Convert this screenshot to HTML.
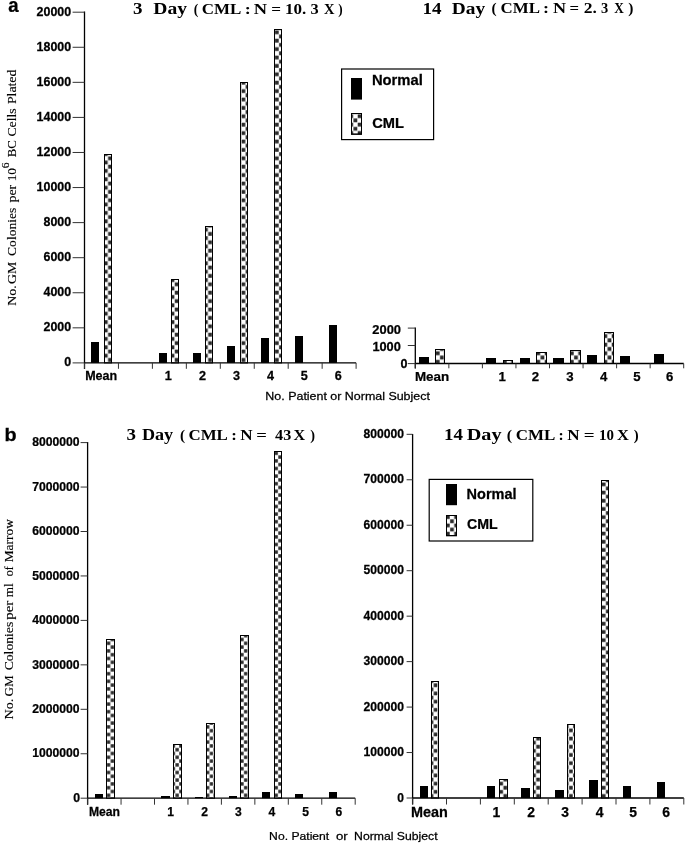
<!DOCTYPE html>
<html><head><meta charset="utf-8"><style>
html,body{margin:0;padding:0;background:#fff;}
svg{display:block;filter:grayscale(1) blur(0.35px);}
text[font-family="Liberation Sans"]{stroke:#000;stroke-width:0.25px;}
text[font-weight="normal"][font-family="Liberation Serif"]{stroke:#000;stroke-width:0.12px;}
</style></head><body>
<svg width="685" height="843" viewBox="0 0 685 843">
<defs><pattern id="pAL" patternUnits="userSpaceOnUse" x="103.730" y="160.400" width="8.340" height="8.400"><rect x="0.20" y="0.20" width="3.770" height="3.800" fill="#2a2a2a"/><rect x="4.370" y="4.400" width="3.770" height="3.800" fill="#2a2a2a"/></pattern><pattern id="pAR" patternUnits="userSpaceOnUse" x="607.400" y="338.200" width="8.380" height="8.600"><rect x="0.20" y="0.20" width="3.790" height="3.900" fill="#2a2a2a"/><rect x="4.390" y="4.500" width="3.790" height="3.900" fill="#2a2a2a"/></pattern><pattern id="pBL" patternUnits="userSpaceOnUse" x="274.300" y="451.400" width="7.620" height="7.600"><rect x="0.20" y="0.20" width="3.410" height="3.400" fill="#2a2a2a"/><rect x="4.010" y="4.000" width="3.410" height="3.400" fill="#2a2a2a"/></pattern><pattern id="pBR" patternUnits="userSpaceOnUse" x="433.500" y="683.200" width="8.200" height="8.200"><rect x="0.20" y="0.20" width="3.700" height="3.700" fill="#2a2a2a"/><rect x="4.300" y="4.300" width="3.700" height="3.700" fill="#2a2a2a"/></pattern><pattern id="pLA" patternUnits="userSpaceOnUse" x="353.300" y="118.300" width="8.400" height="8.400"><rect x="0.20" y="0.20" width="3.800" height="3.800" fill="#2a2a2a"/><rect x="4.400" y="4.400" width="3.800" height="3.800" fill="#2a2a2a"/></pattern><pattern id="pLB" patternUnits="userSpaceOnUse" x="449.900" y="519.200" width="8.300" height="8.300"><rect x="0.20" y="0.20" width="3.750" height="3.750" fill="#2a2a2a"/><rect x="4.350" y="4.350" width="3.750" height="3.750" fill="#2a2a2a"/></pattern></defs>
<rect width="685" height="843" fill="#fff"/>
<text transform="translate(8.24,11.80) scale(0.942,1)" font-family="Liberation Sans" font-weight="bold" font-size="19.73" fill="#000" >a</text>
<text transform="translate(4.51,441.02) scale(1.103,1)" font-family="Liberation Sans" font-weight="bold" font-size="17.96" fill="#000" >b</text>
<line x1="84.50" y1="11.60" x2="84.50" y2="368.90" stroke="#000" stroke-width="1.3"/>
<line x1="72.60" y1="362.90" x2="84.50" y2="362.90" stroke="#333" stroke-width="1.0"/>
<text transform="translate(64.29,366.20) scale(1.020,1)" font-family="Liberation Sans" font-weight="bold" font-size="12.20" fill="#000">0</text>
<line x1="72.60" y1="327.83" x2="84.50" y2="327.83" stroke="#333" stroke-width="1.0"/>
<text transform="translate(43.54,331.13) scale(1.020,1)" font-family="Liberation Sans" font-weight="bold" font-size="12.20" fill="#000">2000</text>
<line x1="72.60" y1="292.76" x2="84.50" y2="292.76" stroke="#333" stroke-width="1.0"/>
<text transform="translate(43.54,296.06) scale(1.020,1)" font-family="Liberation Sans" font-weight="bold" font-size="12.20" fill="#000">4000</text>
<line x1="72.60" y1="257.69" x2="84.50" y2="257.69" stroke="#333" stroke-width="1.0"/>
<text transform="translate(43.54,260.99) scale(1.020,1)" font-family="Liberation Sans" font-weight="bold" font-size="12.20" fill="#000">6000</text>
<line x1="72.60" y1="222.62" x2="84.50" y2="222.62" stroke="#333" stroke-width="1.0"/>
<text transform="translate(43.54,225.92) scale(1.020,1)" font-family="Liberation Sans" font-weight="bold" font-size="12.20" fill="#000">8000</text>
<line x1="72.60" y1="187.55" x2="84.50" y2="187.55" stroke="#333" stroke-width="1.0"/>
<text transform="translate(36.60,190.85) scale(1.020,1)" font-family="Liberation Sans" font-weight="bold" font-size="12.20" fill="#000">10000</text>
<line x1="72.60" y1="152.48" x2="84.50" y2="152.48" stroke="#333" stroke-width="1.0"/>
<text transform="translate(36.60,155.78) scale(1.020,1)" font-family="Liberation Sans" font-weight="bold" font-size="12.20" fill="#000">12000</text>
<line x1="72.60" y1="117.41" x2="84.50" y2="117.41" stroke="#333" stroke-width="1.0"/>
<text transform="translate(36.60,120.71) scale(1.020,1)" font-family="Liberation Sans" font-weight="bold" font-size="12.20" fill="#000">14000</text>
<line x1="72.60" y1="82.34" x2="84.50" y2="82.34" stroke="#333" stroke-width="1.0"/>
<text transform="translate(36.60,85.64) scale(1.020,1)" font-family="Liberation Sans" font-weight="bold" font-size="12.20" fill="#000">16000</text>
<line x1="72.60" y1="47.27" x2="84.50" y2="47.27" stroke="#333" stroke-width="1.0"/>
<text transform="translate(36.60,50.57) scale(1.020,1)" font-family="Liberation Sans" font-weight="bold" font-size="12.20" fill="#000">18000</text>
<line x1="72.60" y1="12.20" x2="84.50" y2="12.20" stroke="#333" stroke-width="1.0"/>
<text transform="translate(36.60,15.50) scale(1.020,1)" font-family="Liberation Sans" font-weight="bold" font-size="12.20" fill="#000">20000</text>
<line x1="84.50" y1="362.90" x2="356.10" y2="362.90" stroke="#000" stroke-width="1.3"/>
<line x1="84.50" y1="362.90" x2="84.50" y2="368.80" stroke="#333" stroke-width="1.0"/>
<line x1="118.45" y1="362.90" x2="118.45" y2="368.80" stroke="#333" stroke-width="1.0"/>
<line x1="152.40" y1="362.90" x2="152.40" y2="368.80" stroke="#333" stroke-width="1.0"/>
<line x1="186.35" y1="362.90" x2="186.35" y2="368.80" stroke="#333" stroke-width="1.0"/>
<line x1="220.30" y1="362.90" x2="220.30" y2="368.80" stroke="#333" stroke-width="1.0"/>
<line x1="254.25" y1="362.90" x2="254.25" y2="368.80" stroke="#333" stroke-width="1.0"/>
<line x1="288.20" y1="362.90" x2="288.20" y2="368.80" stroke="#333" stroke-width="1.0"/>
<line x1="322.15" y1="362.90" x2="322.15" y2="368.80" stroke="#333" stroke-width="1.0"/>
<line x1="356.10" y1="362.90" x2="356.10" y2="368.80" stroke="#333" stroke-width="1.0"/>
<text transform="translate(85.15,380.10) scale(1.010,1)" font-family="Liberation Sans" font-weight="bold" font-size="12.40" fill="#000" >Mean</text>
<text transform="translate(164.87,380.20) scale(1.020,1)" font-family="Liberation Sans" font-weight="bold" font-size="12.40" fill="#000">1</text>
<text transform="translate(199.07,380.20) scale(1.020,1)" font-family="Liberation Sans" font-weight="bold" font-size="12.40" fill="#000">2</text>
<text transform="translate(233.07,380.20) scale(1.020,1)" font-family="Liberation Sans" font-weight="bold" font-size="12.40" fill="#000">3</text>
<text transform="translate(266.88,380.20) scale(1.020,1)" font-family="Liberation Sans" font-weight="bold" font-size="12.40" fill="#000">4</text>
<text transform="translate(300.87,380.20) scale(1.020,1)" font-family="Liberation Sans" font-weight="bold" font-size="12.40" fill="#000">5</text>
<text transform="translate(334.82,380.20) scale(1.020,1)" font-family="Liberation Sans" font-weight="bold" font-size="12.40" fill="#000">6</text>
<rect x="91.00" y="342.00" width="8.00" height="20.90" fill="#000"/>
<rect x="104.50" y="154.50" width="7.00" height="208.40" fill="url(#pAL)" stroke="#000" stroke-width="1"/>
<rect x="159.00" y="353.00" width="8.00" height="9.90" fill="#000"/>
<rect x="171.50" y="279.50" width="7.00" height="83.40" fill="url(#pAL)" stroke="#000" stroke-width="1"/>
<rect x="193.00" y="353.00" width="8.00" height="9.90" fill="#000"/>
<rect x="205.50" y="226.50" width="7.00" height="136.40" fill="url(#pAL)" stroke="#000" stroke-width="1"/>
<rect x="227.00" y="346.00" width="8.00" height="16.90" fill="#000"/>
<rect x="240.50" y="82.50" width="7.00" height="280.40" fill="url(#pAL)" stroke="#000" stroke-width="1"/>
<rect x="261.00" y="338.00" width="8.00" height="24.90" fill="#000"/>
<rect x="274.50" y="29.50" width="7.00" height="333.40" fill="url(#pAL)" stroke="#000" stroke-width="1"/>
<rect x="295.00" y="336.00" width="8.00" height="26.90" fill="#000"/>
<rect x="329.00" y="325.00" width="8.00" height="37.90" fill="#000"/>
<line x1="415.30" y1="327.50" x2="415.30" y2="368.50" stroke="#000" stroke-width="1.3"/>
<line x1="407.80" y1="363.60" x2="415.30" y2="363.60" stroke="#333" stroke-width="1.0"/>
<line x1="407.80" y1="345.50" x2="415.30" y2="345.50" stroke="#333" stroke-width="1.0"/>
<line x1="407.80" y1="328.10" x2="415.30" y2="328.10" stroke="#333" stroke-width="1.0"/>
<text transform="translate(372.35,333.70) scale(1.057,1)" font-family="Liberation Sans" font-weight="bold" font-size="12.20" fill="#000" >2000</text>
<text transform="translate(372.40,350.80) scale(1.048,1)" font-family="Liberation Sans" font-weight="bold" font-size="12.20" fill="#000" >1000</text>
<text transform="translate(400.53,368.40) scale(1.030,1)" font-family="Liberation Sans" font-weight="bold" font-size="12.20" fill="#000">0</text>
<line x1="415.30" y1="363.50" x2="683.70" y2="363.50" stroke="#000" stroke-width="1.3"/>
<line x1="415.30" y1="363.50" x2="415.30" y2="368.30" stroke="#333" stroke-width="1.0"/>
<line x1="448.85" y1="363.50" x2="448.85" y2="368.30" stroke="#333" stroke-width="1.0"/>
<line x1="482.40" y1="363.50" x2="482.40" y2="368.30" stroke="#333" stroke-width="1.0"/>
<line x1="515.95" y1="363.50" x2="515.95" y2="368.30" stroke="#333" stroke-width="1.0"/>
<line x1="549.50" y1="363.50" x2="549.50" y2="368.30" stroke="#333" stroke-width="1.0"/>
<line x1="583.05" y1="363.50" x2="583.05" y2="368.30" stroke="#333" stroke-width="1.0"/>
<line x1="616.60" y1="363.50" x2="616.60" y2="368.30" stroke="#333" stroke-width="1.0"/>
<line x1="650.15" y1="363.50" x2="650.15" y2="368.30" stroke="#333" stroke-width="1.0"/>
<line x1="683.70" y1="363.50" x2="683.70" y2="368.30" stroke="#333" stroke-width="1.0"/>
<text transform="translate(414.90,381.30) scale(0.992,1)" font-family="Liberation Sans" font-weight="bold" font-size="13.50" fill="#000" >Mean</text>
<text transform="translate(498.41,381.30) scale(1.000,1)" font-family="Liberation Sans" font-weight="bold" font-size="13.20" fill="#000">1</text>
<text transform="translate(531.87,381.30) scale(1.000,1)" font-family="Liberation Sans" font-weight="bold" font-size="13.20" fill="#000">2</text>
<text transform="translate(566.32,381.30) scale(1.000,1)" font-family="Liberation Sans" font-weight="bold" font-size="13.20" fill="#000">3</text>
<text transform="translate(599.97,381.30) scale(1.000,1)" font-family="Liberation Sans" font-weight="bold" font-size="13.20" fill="#000">4</text>
<text transform="translate(633.32,381.30) scale(1.000,1)" font-family="Liberation Sans" font-weight="bold" font-size="13.20" fill="#000">5</text>
<text transform="translate(666.02,381.30) scale(1.000,1)" font-family="Liberation Sans" font-weight="bold" font-size="13.20" fill="#000">6</text>
<rect x="419.00" y="357.00" width="10.00" height="6.50" fill="#000"/>
<rect x="435.50" y="349.50" width="9.00" height="14.00" fill="url(#pAR)" stroke="#000" stroke-width="1"/>
<rect x="486.00" y="358.00" width="10.00" height="5.50" fill="#000"/>
<rect x="503.50" y="360.50" width="9.00" height="3.00" fill="url(#pAR)" stroke="#000" stroke-width="1"/>
<rect x="520.00" y="358.00" width="10.00" height="5.50" fill="#000"/>
<rect x="536.50" y="352.50" width="10.00" height="11.00" fill="url(#pAR)" stroke="#000" stroke-width="1"/>
<rect x="553.00" y="358.00" width="11.00" height="5.50" fill="#000"/>
<rect x="570.50" y="350.50" width="10.00" height="13.00" fill="url(#pAR)" stroke="#000" stroke-width="1"/>
<rect x="587.00" y="355.00" width="10.00" height="8.50" fill="#000"/>
<rect x="604.50" y="332.50" width="9.00" height="31.00" fill="url(#pAR)" stroke="#000" stroke-width="1"/>
<rect x="620.00" y="356.00" width="10.00" height="7.50" fill="#000"/>
<rect x="654.00" y="354.00" width="10.00" height="9.50" fill="#000"/>
<rect x="341.6" y="69.0" width="92.0" height="70.6" fill="none" stroke="#000" stroke-width="1.2"/>
<rect x="351.00" y="78.00" width="11.00" height="21.60" fill="#000"/>
<rect x="351.50" y="113.50" width="10.00" height="20.80" fill="url(#pLA)" stroke="#000" stroke-width="1"/>
<rect x="351" y="133.5" width="11" height="1.0" fill="#000"/>
<text transform="translate(371.90,84.80) scale(1.034,1)" font-family="Liberation Sans" font-weight="bold" font-size="14.30" fill="#000" >Normal</text>
<text transform="translate(372.21,127.90) scale(1.025,1)" font-family="Liberation Sans" font-weight="bold" font-size="14.30" fill="#000" >CML</text>
<text transform="translate(265.37,399.60) scale(1.074,1)" font-family="Liberation Sans" font-weight="normal" font-size="11.60" fill="#000" >No. Patient or Normal Subject</text>
<text transform="translate(133.09,13.70) scale(1.128,1)" font-family="Liberation Serif" font-weight="bold" font-size="16.80" fill="#000" >3</text>
<text transform="translate(153.26,13.70) scale(1.166,1)" font-family="Liberation Serif" font-weight="bold" font-size="16.80" fill="#000" >Day</text>
<text transform="translate(193.68,13.80) scale(1.009,1)" font-family="Liberation Serif" font-weight="bold" font-size="13.60" fill="#000" >(</text>
<text transform="translate(201.65,13.80) scale(1.247,1)" font-family="Liberation Serif" font-weight="bold" font-size="13.60" fill="#000" >CML</text>
<text transform="translate(244.80,13.80) scale(1.333,1)" font-family="Liberation Serif" font-weight="bold" font-size="13.60" fill="#000" >:</text>
<text transform="translate(253.83,13.80) scale(1.353,1)" font-family="Liberation Serif" font-weight="bold" font-size="13.60" fill="#000" >N</text>
<text transform="translate(271.34,13.80) scale(1.265,1)" font-family="Liberation Serif" font-weight="bold" font-size="13.60" fill="#000" >=</text>
<text transform="translate(284.93,13.80) scale(1.255,1)" font-family="Liberation Serif" font-weight="bold" font-size="13.60" fill="#000" >10.</text>
<text transform="translate(310.39,13.80) scale(1.204,1)" font-family="Liberation Serif" font-weight="bold" font-size="13.60" fill="#000" >3</text>
<text transform="translate(323.94,13.80) scale(1.072,1)" font-family="Liberation Serif" font-weight="bold" font-size="13.60" fill="#000" >X</text>
<text transform="translate(338.37,13.80) scale(0.971,1)" font-family="Liberation Serif" font-weight="bold" font-size="13.60" fill="#000" >)</text>
<text transform="translate(422.58,13.50) scale(1.134,1)" font-family="Liberation Serif" font-weight="bold" font-size="16.80" fill="#000" >14</text>
<text transform="translate(451.76,13.50) scale(1.155,1)" font-family="Liberation Serif" font-weight="bold" font-size="16.80" fill="#000" >Day</text>
<text transform="translate(491.51,13.30) scale(1.125,1)" font-family="Liberation Serif" font-weight="bold" font-size="13.60" fill="#000" >(</text>
<text transform="translate(500.55,13.30) scale(1.244,1)" font-family="Liberation Serif" font-weight="bold" font-size="13.60" fill="#000" >CML</text>
<text transform="translate(543.10,13.30) scale(1.333,1)" font-family="Liberation Serif" font-weight="bold" font-size="13.60" fill="#000" >:</text>
<text transform="translate(552.94,13.30) scale(1.332,1)" font-family="Liberation Serif" font-weight="bold" font-size="13.60" fill="#000" >N</text>
<text transform="translate(569.56,13.30) scale(1.233,1)" font-family="Liberation Serif" font-weight="bold" font-size="13.60" fill="#000" >=</text>
<text transform="translate(583.66,13.30) scale(1.287,1)" font-family="Liberation Serif" font-weight="bold" font-size="13.60" fill="#000" >2.</text>
<text transform="translate(601.06,13.30) scale(1.066,1)" font-family="Liberation Serif" font-weight="bold" font-size="13.60" fill="#000" >3</text>
<text transform="translate(614.17,13.30) scale(0.977,1)" font-family="Liberation Serif" font-weight="bold" font-size="13.60" fill="#000" >X</text>
<text transform="translate(628.30,13.30) scale(1.142,1)" font-family="Liberation Serif" font-weight="bold" font-size="13.60" fill="#000" >)</text>
<line x1="87.60" y1="442.00" x2="87.60" y2="804.70" stroke="#000" stroke-width="1.3"/>
<line x1="80.60" y1="798.20" x2="87.60" y2="798.20" stroke="#333" stroke-width="1.0"/>
<text transform="translate(73.27,802.00) scale(1.000,1)" font-family="Liberation Sans" font-weight="bold" font-size="12.30" fill="#000">0</text>
<line x1="80.60" y1="753.75" x2="87.60" y2="753.75" stroke="#333" stroke-width="1.0"/>
<text transform="translate(32.29,757.45) scale(0.990,1)" font-family="Liberation Sans" font-weight="bold" font-size="12.30" fill="#000">1000000</text>
<line x1="80.60" y1="709.30" x2="87.60" y2="709.30" stroke="#333" stroke-width="1.0"/>
<text transform="translate(32.29,713.00) scale(0.990,1)" font-family="Liberation Sans" font-weight="bold" font-size="12.30" fill="#000">2000000</text>
<line x1="80.60" y1="664.85" x2="87.60" y2="664.85" stroke="#333" stroke-width="1.0"/>
<text transform="translate(32.29,668.55) scale(0.990,1)" font-family="Liberation Sans" font-weight="bold" font-size="12.30" fill="#000">3000000</text>
<line x1="80.60" y1="620.40" x2="87.60" y2="620.40" stroke="#333" stroke-width="1.0"/>
<text transform="translate(32.29,624.10) scale(0.990,1)" font-family="Liberation Sans" font-weight="bold" font-size="12.30" fill="#000">4000000</text>
<line x1="80.60" y1="575.95" x2="87.60" y2="575.95" stroke="#333" stroke-width="1.0"/>
<text transform="translate(32.29,579.65) scale(0.990,1)" font-family="Liberation Sans" font-weight="bold" font-size="12.30" fill="#000">5000000</text>
<line x1="80.60" y1="531.50" x2="87.60" y2="531.50" stroke="#333" stroke-width="1.0"/>
<text transform="translate(32.29,535.20) scale(0.990,1)" font-family="Liberation Sans" font-weight="bold" font-size="12.30" fill="#000">6000000</text>
<line x1="80.60" y1="487.05" x2="87.60" y2="487.05" stroke="#333" stroke-width="1.0"/>
<text transform="translate(32.29,490.75) scale(0.990,1)" font-family="Liberation Sans" font-weight="bold" font-size="12.30" fill="#000">7000000</text>
<line x1="80.60" y1="442.60" x2="87.60" y2="442.60" stroke="#333" stroke-width="1.0"/>
<text transform="translate(32.29,446.30) scale(0.990,1)" font-family="Liberation Sans" font-weight="bold" font-size="12.30" fill="#000">8000000</text>
<line x1="87.60" y1="798.20" x2="355.20" y2="798.20" stroke="#000" stroke-width="1.3"/>
<line x1="87.60" y1="798.20" x2="87.60" y2="804.70" stroke="#333" stroke-width="1.0"/>
<line x1="121.05" y1="798.20" x2="121.05" y2="804.70" stroke="#333" stroke-width="1.0"/>
<line x1="154.50" y1="798.20" x2="154.50" y2="804.70" stroke="#333" stroke-width="1.0"/>
<line x1="187.95" y1="798.20" x2="187.95" y2="804.70" stroke="#333" stroke-width="1.0"/>
<line x1="221.40" y1="798.20" x2="221.40" y2="804.70" stroke="#333" stroke-width="1.0"/>
<line x1="254.85" y1="798.20" x2="254.85" y2="804.70" stroke="#333" stroke-width="1.0"/>
<line x1="288.30" y1="798.20" x2="288.30" y2="804.70" stroke="#333" stroke-width="1.0"/>
<line x1="321.75" y1="798.20" x2="321.75" y2="804.70" stroke="#333" stroke-width="1.0"/>
<line x1="355.20" y1="798.20" x2="355.20" y2="804.70" stroke="#333" stroke-width="1.0"/>
<text transform="translate(88.88,815.60) scale(1.008,1)" font-family="Liberation Sans" font-weight="bold" font-size="12.10" fill="#000" >Mean</text>
<text transform="translate(167.23,815.80) scale(1.000,1)" font-family="Liberation Sans" font-weight="bold" font-size="12.10" fill="#000">1</text>
<text transform="translate(201.37,815.80) scale(1.000,1)" font-family="Liberation Sans" font-weight="bold" font-size="12.10" fill="#000">2</text>
<text transform="translate(235.12,815.80) scale(1.000,1)" font-family="Liberation Sans" font-weight="bold" font-size="12.10" fill="#000">3</text>
<text transform="translate(268.58,815.80) scale(1.000,1)" font-family="Liberation Sans" font-weight="bold" font-size="12.10" fill="#000">4</text>
<text transform="translate(302.13,815.80) scale(1.000,1)" font-family="Liberation Sans" font-weight="bold" font-size="12.10" fill="#000">5</text>
<text transform="translate(335.43,815.80) scale(1.000,1)" font-family="Liberation Sans" font-weight="bold" font-size="12.10" fill="#000">6</text>
<rect x="95.00" y="794.00" width="8.00" height="4.20" fill="#000"/>
<rect x="106.50" y="639.50" width="8.00" height="158.70" fill="url(#pBL)" stroke="#000" stroke-width="1"/>
<rect x="161.00" y="796.00" width="9.00" height="2.20" fill="#000"/>
<rect x="173.50" y="744.50" width="8.00" height="53.70" fill="url(#pBL)" stroke="#000" stroke-width="1"/>
<rect x="195.00" y="797.00" width="8.00" height="1.20" fill="#000"/>
<rect x="206.50" y="723.50" width="8.00" height="74.70" fill="url(#pBL)" stroke="#000" stroke-width="1"/>
<rect x="229.00" y="796.00" width="8.00" height="2.20" fill="#000"/>
<rect x="240.50" y="635.50" width="8.00" height="162.70" fill="url(#pBL)" stroke="#000" stroke-width="1"/>
<rect x="262.00" y="792.00" width="8.00" height="6.20" fill="#000"/>
<rect x="274.50" y="451.50" width="7.00" height="346.70" fill="url(#pBL)" stroke="#000" stroke-width="1"/>
<rect x="295.00" y="794.00" width="8.00" height="4.20" fill="#000"/>
<rect x="329.00" y="792.00" width="8.00" height="6.20" fill="#000"/>
<line x1="412.60" y1="433.90" x2="412.60" y2="804.50" stroke="#000" stroke-width="1.3"/>
<line x1="406.60" y1="798.00" x2="412.60" y2="798.00" stroke="#333" stroke-width="1.0"/>
<text transform="translate(397.32,802.00) scale(1.000,1)" font-family="Liberation Sans" font-weight="bold" font-size="12.00" fill="#000">0</text>
<line x1="406.60" y1="752.54" x2="412.60" y2="752.54" stroke="#333" stroke-width="1.0"/>
<text transform="translate(363.56,756.24) scale(1.010,1)" font-family="Liberation Sans" font-weight="bold" font-size="12.00" fill="#000">100000</text>
<line x1="406.60" y1="707.08" x2="412.60" y2="707.08" stroke="#333" stroke-width="1.0"/>
<text transform="translate(363.56,710.78) scale(1.010,1)" font-family="Liberation Sans" font-weight="bold" font-size="12.00" fill="#000">200000</text>
<line x1="406.60" y1="661.62" x2="412.60" y2="661.62" stroke="#333" stroke-width="1.0"/>
<text transform="translate(363.56,665.32) scale(1.010,1)" font-family="Liberation Sans" font-weight="bold" font-size="12.00" fill="#000">300000</text>
<line x1="406.60" y1="616.16" x2="412.60" y2="616.16" stroke="#333" stroke-width="1.0"/>
<text transform="translate(363.56,619.86) scale(1.010,1)" font-family="Liberation Sans" font-weight="bold" font-size="12.00" fill="#000">400000</text>
<line x1="406.60" y1="570.70" x2="412.60" y2="570.70" stroke="#333" stroke-width="1.0"/>
<text transform="translate(363.56,574.40) scale(1.010,1)" font-family="Liberation Sans" font-weight="bold" font-size="12.00" fill="#000">500000</text>
<line x1="406.60" y1="525.24" x2="412.60" y2="525.24" stroke="#333" stroke-width="1.0"/>
<text transform="translate(363.56,528.94) scale(1.010,1)" font-family="Liberation Sans" font-weight="bold" font-size="12.00" fill="#000">600000</text>
<line x1="406.60" y1="479.78" x2="412.60" y2="479.78" stroke="#333" stroke-width="1.0"/>
<text transform="translate(363.56,483.48) scale(1.010,1)" font-family="Liberation Sans" font-weight="bold" font-size="12.00" fill="#000">700000</text>
<line x1="406.60" y1="434.32" x2="412.60" y2="434.32" stroke="#333" stroke-width="1.0"/>
<text transform="translate(363.56,438.02) scale(1.010,1)" font-family="Liberation Sans" font-weight="bold" font-size="12.00" fill="#000">800000</text>
<line x1="412.60" y1="798.00" x2="683.80" y2="798.00" stroke="#000" stroke-width="1.3"/>
<line x1="412.60" y1="798.00" x2="412.60" y2="804.50" stroke="#333" stroke-width="1.0"/>
<line x1="446.50" y1="798.00" x2="446.50" y2="804.50" stroke="#333" stroke-width="1.0"/>
<line x1="480.40" y1="798.00" x2="480.40" y2="804.50" stroke="#333" stroke-width="1.0"/>
<line x1="514.30" y1="798.00" x2="514.30" y2="804.50" stroke="#333" stroke-width="1.0"/>
<line x1="548.20" y1="798.00" x2="548.20" y2="804.50" stroke="#333" stroke-width="1.0"/>
<line x1="582.10" y1="798.00" x2="582.10" y2="804.50" stroke="#333" stroke-width="1.0"/>
<line x1="616.00" y1="798.00" x2="616.00" y2="804.50" stroke="#333" stroke-width="1.0"/>
<line x1="649.90" y1="798.00" x2="649.90" y2="804.50" stroke="#333" stroke-width="1.0"/>
<line x1="683.80" y1="798.00" x2="683.80" y2="804.50" stroke="#333" stroke-width="1.0"/>
<text transform="translate(410.92,817.40) scale(0.997,1)" font-family="Liberation Sans" font-weight="bold" font-size="14.50" fill="#000" >Mean</text>
<text transform="translate(492.40,817.20) scale(1.000,1)" font-family="Liberation Sans" font-weight="bold" font-size="13.90" fill="#000">1</text>
<text transform="translate(527.18,817.20) scale(1.000,1)" font-family="Liberation Sans" font-weight="bold" font-size="13.90" fill="#000">2</text>
<text transform="translate(561.33,817.20) scale(1.000,1)" font-family="Liberation Sans" font-weight="bold" font-size="13.90" fill="#000">3</text>
<text transform="translate(595.77,817.20) scale(1.000,1)" font-family="Liberation Sans" font-weight="bold" font-size="13.90" fill="#000">4</text>
<text transform="translate(629.13,817.20) scale(1.000,1)" font-family="Liberation Sans" font-weight="bold" font-size="13.90" fill="#000">5</text>
<text transform="translate(662.33,817.20) scale(1.000,1)" font-family="Liberation Sans" font-weight="bold" font-size="13.90" fill="#000">6</text>
<rect x="420.00" y="786.00" width="8.00" height="12.00" fill="#000"/>
<rect x="431.50" y="681.50" width="7.00" height="116.50" fill="url(#pBR)" stroke="#000" stroke-width="1"/>
<rect x="487.00" y="786.00" width="8.00" height="12.00" fill="#000"/>
<rect x="499.50" y="779.50" width="8.00" height="18.50" fill="url(#pBR)" stroke="#000" stroke-width="1"/>
<rect x="521.00" y="788.00" width="9.00" height="10.00" fill="#000"/>
<rect x="533.50" y="737.50" width="7.00" height="60.50" fill="url(#pBR)" stroke="#000" stroke-width="1"/>
<rect x="555.00" y="790.00" width="9.00" height="8.00" fill="#000"/>
<rect x="567.50" y="724.50" width="7.00" height="73.50" fill="url(#pBR)" stroke="#000" stroke-width="1"/>
<rect x="589.00" y="780.00" width="9.00" height="18.00" fill="#000"/>
<rect x="601.50" y="480.50" width="7.00" height="317.50" fill="url(#pBR)" stroke="#000" stroke-width="1"/>
<rect x="623.00" y="786.00" width="8.00" height="12.00" fill="#000"/>
<rect x="657.00" y="782.00" width="8.00" height="16.00" fill="#000"/>
<rect x="429.2" y="479.4" width="103.6" height="61.6" fill="none" stroke="#000" stroke-width="1.2"/>
<rect x="446.00" y="484.00" width="11.00" height="21.20" fill="#000"/>
<rect x="446.50" y="515.50" width="10.00" height="20.30" fill="url(#pLB)" stroke="#000" stroke-width="1"/>
<rect x="446" y="535" width="11" height="1.0" fill="#000"/>
<text transform="translate(466.62,498.60) scale(1.022,1)" font-family="Liberation Sans" font-weight="bold" font-size="14.20" fill="#000" >Normal</text>
<text transform="translate(467.03,529.30) scale(1.013,1)" font-family="Liberation Sans" font-weight="bold" font-size="14.00" fill="#000" >CML</text>
<text transform="translate(269.10,839.70) scale(1.049,1)" font-family="Liberation Sans" font-weight="normal" font-size="11.60" fill="#000" >No. Patient</text>
<text transform="translate(335.94,839.70) scale(1.143,1)" font-family="Liberation Sans" font-weight="normal" font-size="11.60" fill="#000" >or</text>
<text transform="translate(354.09,839.70) scale(1.054,1)" font-family="Liberation Sans" font-weight="normal" font-size="11.60" fill="#000" >Normal Subject</text>
<text transform="translate(126.49,439.70) scale(1.128,1)" font-family="Liberation Serif" font-weight="bold" font-size="16.80" fill="#000" >3</text>
<text transform="translate(141.88,439.70) scale(1.082,1)" font-family="Liberation Serif" font-weight="bold" font-size="16.80" fill="#000" >Day</text>
<text transform="translate(180.01,439.60) scale(1.125,1)" font-family="Liberation Serif" font-weight="bold" font-size="13.60" fill="#000" >(</text>
<text transform="translate(188.45,439.60) scale(1.244,1)" font-family="Liberation Serif" font-weight="bold" font-size="13.60" fill="#000" >CML</text>
<text transform="translate(231.31,439.60) scale(1.241,1)" font-family="Liberation Serif" font-weight="bold" font-size="13.60" fill="#000" >:</text>
<text transform="translate(240.26,439.60) scale(1.257,1)" font-family="Liberation Serif" font-weight="bold" font-size="13.60" fill="#000" >N</text>
<text transform="translate(256.36,439.60) scale(1.376,1)" font-family="Liberation Serif" font-weight="bold" font-size="13.60" fill="#000" >=</text>
<text transform="translate(275.10,439.60) scale(1.197,1)" font-family="Liberation Serif" font-weight="bold" font-size="13.60" fill="#000" >43</text>
<text transform="translate(293.62,439.60) scale(1.189,1)" font-family="Liberation Serif" font-weight="bold" font-size="13.60" fill="#000" >X</text>
<text transform="translate(310.23,439.60) scale(1.057,1)" font-family="Liberation Serif" font-weight="bold" font-size="13.60" fill="#000" >)</text>
<text transform="translate(443.98,440.40) scale(1.128,1)" font-family="Liberation Serif" font-weight="bold" font-size="16.80" fill="#000" >14</text>
<text transform="translate(466.65,440.40) scale(1.205,1)" font-family="Liberation Serif" font-weight="bold" font-size="16.80" fill="#000" >Day</text>
<text transform="translate(506.68,440.00) scale(1.182,1)" font-family="Liberation Serif" font-weight="bold" font-size="13.60" fill="#000" >(</text>
<text transform="translate(515.75,440.00) scale(1.247,1)" font-family="Liberation Serif" font-weight="bold" font-size="13.60" fill="#000" >CML</text>
<text transform="translate(558.41,440.00) scale(1.149,1)" font-family="Liberation Serif" font-weight="bold" font-size="13.60" fill="#000" >:</text>
<text transform="translate(567.16,440.00) scale(1.257,1)" font-family="Liberation Serif" font-weight="bold" font-size="13.60" fill="#000" >N</text>
<text transform="translate(583.64,440.00) scale(1.407,1)" font-family="Liberation Serif" font-weight="bold" font-size="13.60" fill="#000" >=</text>
<text transform="translate(599.00,440.00) scale(1.100,1)" font-family="Liberation Serif" font-weight="bold" font-size="13.60" fill="#000" >10</text>
<text transform="translate(616.91,440.00) scale(1.210,1)" font-family="Liberation Serif" font-weight="bold" font-size="13.60" fill="#000" >X</text>
<text transform="translate(633.82,440.00) scale(1.085,1)" font-family="Liberation Serif" font-weight="bold" font-size="13.60" fill="#000" >)</text>
<text transform="translate(16.30,305.82) rotate(-90) scale(1.056,1)" font-family="Liberation Serif" font-weight="normal" font-size="13.20" fill="#000">No.</text>
<text transform="translate(16.30,283.95) rotate(-90) scale(1.046,1)" font-family="Liberation Serif" font-weight="normal" font-size="13.20" fill="#000">GM</text>
<text transform="translate(16.30,255.94) rotate(-90) scale(1.028,1)" font-family="Liberation Serif" font-weight="normal" font-size="13.20" fill="#000">Colonies</text>
<text transform="translate(16.30,202.61) rotate(-90) scale(1.062,1)" font-family="Liberation Serif" font-weight="normal" font-size="13.20" fill="#000">per</text>
<text transform="translate(16.30,181.37) rotate(-90) scale(1.013,1)" font-family="Liberation Serif" font-weight="normal" font-size="13.20" fill="#000">10</text>
<text transform="translate(16.30,157.28) rotate(-90) scale(0.970,1)" font-family="Liberation Serif" font-weight="normal" font-size="13.20" fill="#000">BC</text>
<text transform="translate(16.30,136.55) rotate(-90) scale(1.037,1)" font-family="Liberation Serif" font-weight="normal" font-size="13.20" fill="#000">Cells</text>
<text transform="translate(16.30,104.11) rotate(-90) scale(1.045,1)" font-family="Liberation Serif" font-weight="normal" font-size="13.20" fill="#000">Plated</text>
<text transform="translate(9.40,168.30) rotate(-90) scale(1.170,1)" font-family="Liberation Serif" font-weight="normal" font-size="10.00" fill="#000">6</text>
<text transform="translate(12.80,719.42) rotate(-90) scale(1.089,1)" font-family="Liberation Serif" font-weight="normal" font-size="13.00" fill="#000">No.</text>
<text transform="translate(12.80,696.43) rotate(-90) scale(1.012,1)" font-family="Liberation Serif" font-weight="normal" font-size="13.00" fill="#000">GM</text>
<text transform="translate(12.80,670.35) rotate(-90) scale(1.052,1)" font-family="Liberation Serif" font-weight="normal" font-size="13.00" fill="#000">Colonies</text>
<text transform="translate(12.80,619.72) rotate(-90) scale(1.146,1)" font-family="Liberation Serif" font-weight="normal" font-size="13.00" fill="#000">per</text>
<text transform="translate(12.80,597.36) rotate(-90) scale(1.016,1)" font-family="Liberation Serif" font-weight="normal" font-size="13.00" fill="#000">ml</text>
<text transform="translate(12.80,576.25) rotate(-90) scale(0.929,1)" font-family="Liberation Serif" font-weight="normal" font-size="13.00" fill="#000">of</text>
<text transform="translate(12.80,562.30) rotate(-90) scale(1.030,1)" font-family="Liberation Serif" font-weight="normal" font-size="13.00" fill="#000">Marrow</text>
</svg>
</body></html>
